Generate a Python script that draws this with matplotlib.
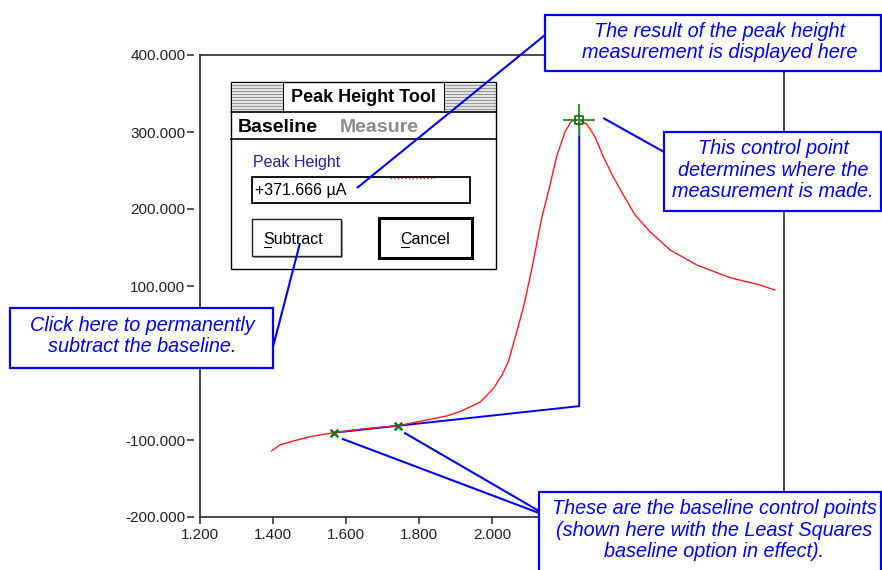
import matplotlib
matplotlib.use("Agg")
import matplotlib.pyplot as plt
from matplotlib.patches import Rectangle

plt.rcParams["font.family"] = ["Liberation Sans", "DejaVu Sans"]

# ---------------- data ----------------
voltage = [1.396, 1.419, 1.456, 1.501, 1.567, 1.638, 1.743, 1.821, 1.876,
           1.912, 1.967, 2.004, 2.027, 2.045, 2.068, 2.090, 2.113, 2.136,
           2.159, 2.177, 2.200, 2.218, 2.239, 2.260, 2.282, 2.305, 2.332,
           2.360, 2.392, 2.433, 2.488, 2.561, 2.652, 2.734, 2.775]
current = [-114.3, -106.5, -101.3, -95.7, -90.5, -86.1, -81.4, -74.0, -68.8,
           -63.2, -51.0, -33.0, -16.0, 2.0, 40.6, 79.6, 131.6, 187.9,
           231.2, 267.9, 300.4, 314.3, 315.6, 310.0, 293.9, 267.9, 241.9,
           218.2, 192.2, 170.5, 146.8, 127.3, 110.8, 101.3, 94.8]

control_x = [1.567, 1.743]      # baseline control points
control_y = [-90.5, -81.4]
peak_x = [2.239]                # measurement control point
peak_y = [315.6]
baseline_x = [1.567, 2.239]     # least squares baseline
baseline_y = [-90.5, -56.0]

x_ticks = [1.2, 1.4, 1.6, 1.8, 2.0, 2.2, 2.4, 2.6, 2.8]
# labels that sit under the callout boxes are not visible in the screenshot
x_tick_labels = ["1.200", "1.400", "1.600", "1.800", "2.000", "", "", "", ""]
y_ticks = [-200, -100, 0, 100, 200, 300, 400]
y_tick_labels = ["-200.000", "-100.000", "", "100.000", "200.000",
                 "300.000", "400.000"]
peak_height_text = "+371.666 µA"

# ---------------- figure ----------------
W, H = 882, 570
fig = plt.figure(figsize=(W / 100, H / 100), dpi=100)
ax = fig.add_axes([200 / W, 53 / H, 584 / W, 462 / H])

frame_col = "#2a2a2a"
blue = "#0000ff"

ax.plot(baseline_x + peak_x, baseline_y + peak_y, color=blue, lw=1.4, zorder=2)
ax.plot(voltage, current, color="#ff1a1a", lw=1.0, zorder=3)
ax.scatter(control_x, control_y, marker="x", s=30, color="#137a13",
           linewidths=1.8, zorder=5)
ax.scatter(peak_x, peak_y, marker="+", s=520, color="#2e9a2e",
           linewidths=1.4, zorder=5)
ax.scatter(peak_x, peak_y, marker="s", s=30, facecolors="none",
           edgecolors="#116611", linewidths=1.2, zorder=6)

ax.set_xlim(1.2, 2.8)
ax.set_ylim(-200, 400)
ax.set_xticks(x_ticks, x_tick_labels)
ax.set_yticks(y_ticks, y_tick_labels)
ax.tick_params(axis="x", length=5, width=1.1, pad=3, labelsize=11,
               color=frame_col, labelcolor="#222222")
ax.tick_params(axis="y", length=4.8, width=1.1, pad=1.5, labelsize=11,
               color=frame_col, labelcolor="#222222")

for s in ax.spines.values():
    s.set_color(frame_col)
    s.set_linewidth(1.2)
# y ticks sit a little away from the frame
ax.spines["left"].set_position(("outward", 4.3))
ax.spines["left"].set_color("none")
ax.plot([0, 0], [0, 1], transform=ax.transAxes, color=frame_col, lw=1.2,
        clip_on=False, zorder=10)

# ---------------- overlay in pixel coordinates ----------------
ov = fig.add_axes([0, 0, 1, 1], zorder=5)
ov.set_xlim(0, W)
ov.set_ylim(H, 0)
ov.axis("off")
ov.patch.set_alpha(0)


def to_px(x, y):
    return ov.transData.inverted().transform(ax.transData.transform((x, y)))


def rect(x0, y0, x1, y1, **kw):
    ov.add_patch(Rectangle((x0, y0), x1 - x0, y1 - y0, **kw))


# --- Peak Height Tool dialog ---
rect(231, 82, 496, 269, facecolor="white", edgecolor="black", lw=1.0, zorder=1)
for sx0, sx1 in [(232, 283), (444, 495)]:
    rect(sx0, 83, sx1, 111.5, facecolor="#e4e4e4", edgecolor="none", zorder=1)
    for yy in range(85, 111, 3):
        ov.plot([sx0, sx1], [yy, yy], color="#8a8a8a", lw=0.6, zorder=1)
ov.plot([283, 283], [82, 112], color="black", lw=0.8, zorder=1)
ov.plot([444, 444], [82, 112], color="black", lw=0.8, zorder=1)
ov.plot([231, 496], [112, 112], color="black", lw=1.2, zorder=1)
ov.plot([231, 496], [139, 139], color="black", lw=1.2, zorder=1)
ov.text(363, 98, "Peak Height Tool", fontsize=13, fontweight="bold",
        ha="center", va="center", zorder=1)
ov.text(238, 127, "Baseline", fontsize=14, fontweight="bold",
        ha="left", va="center", zorder=1)
ov.text(340, 127, "Measure", fontsize=14, fontweight="bold", color="#8c8c8c",
        ha="left", va="center", zorder=1)
ov.text(253, 163, "Peak Height", fontsize=11.5, color="#232392",
        ha="left", va="center", zorder=1)
rect(252, 177, 470, 203, facecolor="white", edgecolor="black", lw=1.3, zorder=1)
ov.plot([390, 435], [177.5, 177.5], color="#dd2222", lw=1.0, ls=":", zorder=1)
ov.text(255, 190, peak_height_text, fontsize=11.5, ha="left", va="center",
        zorder=1)
# buttons
rect(254, 221, 342.5, 258, facecolor="#9a9a9a", edgecolor="none", zorder=1)
rect(251.5, 219, 340.5, 256, facecolor="white", edgecolor="#222222", lw=1.0,
     zorder=1)
ov.text(263.5, 244, "Subtract", fontsize=11.5, ha="left", va="baseline",
        zorder=1)
ov.plot([264, 271], [246.5, 246.5], color="black", lw=0.8, zorder=1)
rect(379, 218, 472, 258, facecolor="white", edgecolor="black", lw=2.2, zorder=1)
ov.text(400, 244, "Cancel", fontsize=11.5, ha="left", va="baseline", zorder=1)
ov.plot([400.5, 409], [246.5, 246.5], color="black", lw=0.8, zorder=1)

# --- callouts ---
line_kw = dict(color=blue, lw=1.5, zorder=2, solid_capstyle="butt")
box_kw = dict(facecolor="white", edgecolor=blue, lw=1.6, zorder=3)
txt_kw = dict(fontsize=14.3, style="italic", color=blue, ha="center",
              va="center", linespacing=1.15, zorder=4)

pk = to_px(peak_x[0], peak_y[0])
c1 = to_px(control_x[0], control_y[0])
c2 = to_px(control_x[1], control_y[1])

ov.plot([545, 357], [35, 188], **line_kw)
ov.plot([pk[0] + 24, 664], [pk[1] - 2, 152], **line_kw)
ov.plot([273, 300], [347, 243], **line_kw)
ov.plot([c1[0] + 8, 539], [c1[1] + 6, 513], **line_kw)
ov.plot([c2[0] + 6, 539], [c2[1] + 7, 511], **line_kw)

rect(545, 15, 880.5, 71, **box_kw)
ov.text(720, 42, "The result of the peak height\nmeasurement is displayed here",
        **txt_kw)

rect(664, 132, 880.5, 211, **box_kw)
ov.text(773, 170, "This control point\ndetermines where the\nmeasurement is made.",
        **txt_kw)

rect(9.5, 308, 273, 368, **box_kw)
ov.text(142, 336, "Click here to permanently\nsubtract the baseline.", **txt_kw)

rect(539, 492, 880.5, 585, **box_kw)
ov.text(714, 530, "These are the baseline control points\n"
        "(shown here with the Least Squares\nbaseline option in effect).",
        **txt_kw)

fig.savefig("out.png", dpi=100)
